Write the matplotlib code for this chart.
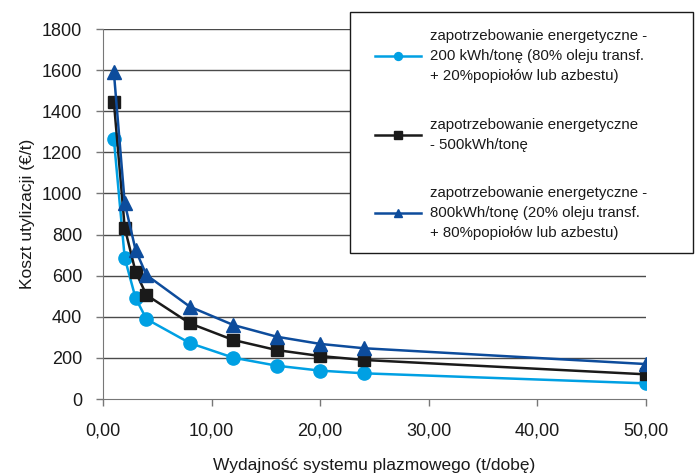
import matplotlib.pyplot as plt
from matplotlib.patches import Rectangle

plt.rcParams["font.family"] = ["Liberation Sans", "DejaVu Sans"]

capacity = [1, 2, 3, 4, 8, 12, 16, 20, 24, 50]
cost_200 = [1265, 686, 491, 389, 272, 201, 162, 138, 125, 76]
cost_500 = [1446, 833, 619, 506, 368, 287, 238, 209, 190, 120]
cost_800 = [1590, 953, 725, 603, 449, 360, 303, 268, 247, 170]

labels = [
    "zapotrzebowanie energetyczne -\n200 kWh/tonę (80% oleju transf.\n+ 20%popiołów lub azbestu)",
    "zapotrzebowanie energetyczne\n- 500kWh/tonę",
    "zapotrzebowanie energetyczne -\n800kWh/tonę (20% oleju transf.\n+ 80%popiołów lub azbestu)",
]
x_ticks = [0, 10, 20, 30, 40, 50]
x_ticklabels = ["0,00", "10,00", "20,00", "30,00", "40,00", "50,00"]
y_ticks = list(range(0, 1801, 200))

W, H = 697, 473
fig = plt.figure(figsize=(W / 100, H / 100), dpi=100)
ax = fig.add_axes([103 / W, 1 - 399 / H, (646 - 103) / W, (399 - 29) / H])

ax.plot(capacity, cost_200, color="#00a0e3", lw=1.8, marker="o", ms=9.5,
        label=labels[0], zorder=3)
ax.plot(capacity, cost_500, color="#1a1a1a", lw=1.8, marker="s", ms=9,
        label=labels[1], zorder=4)
ax.plot(capacity, cost_800, color="#0d4c9c", lw=1.8, marker="^", ms=10.5,
        label=labels[2], zorder=5)

ax.set_xlim(0, 50)
ax.set_ylim(0, 1800)
ax.set_xticks(x_ticks)
ax.set_xticklabels(x_ticklabels)
ax.set_yticks(y_ticks)
for y in y_ticks[1:]:
    ax.axhline(y, color="#4a4a4a", lw=1, zorder=1)

for side in ["top", "right"]:
    ax.spines[side].set_visible(False)
ax.spines["left"].set_color("#777777")
ax.spines["bottom"].set_color("#777777")
ax.tick_params(axis="both", colors="#777777", labelcolor="#1a1a1a",
               labelsize=13, length=5, width=1)
ax.tick_params(axis="y", pad=10)
ax.tick_params(axis="x", pad=12)

ax.set_xlabel("Wydajność systemu plazmowego (t/dobę)", fontsize=12.5,
              color="#1a1a1a", labelpad=13)
ax.set_ylabel("Koszt utylizacji (€/t)", fontsize=12.5, color="#1a1a1a",
              labelpad=5)

# legend box drawn separately so its padding matches the original
fig.patches.append(Rectangle((350 / W, 1 - 253 / H), 343 / W, 241 / H,
                             transform=fig.transFigure, facecolor="white",
                             edgecolor="#1a1a1a", lw=1, zorder=0))

leg = fig.legend(loc="upper left", bbox_to_anchor=(375 / W, 1 - 29 / H),
                 fontsize=10.8, frameon=False, markerscale=0.6,
                 handlelength=3.1, handletextpad=0.6, labelspacing=2.3,
                 borderpad=0, borderaxespad=0)
for t in leg.get_texts():
    t.set_color("#1a1a1a")
    t.set_linespacing(1.55)

fig.savefig("out.png", dpi=100)
